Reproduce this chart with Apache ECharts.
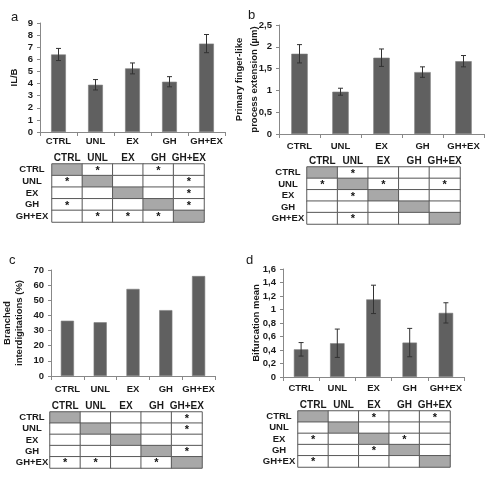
<!DOCTYPE html>
<html><head><meta charset="utf-8">
<script src="https://cdn.jsdelivr.net/npm/echarts@6/dist/echarts.min.js"></script>
<style>html,body{margin:0;padding:0;background:#fff}#c{width:500px;height:481px}</style>
</head><body><div id="c"></div>
<script>
// ---- data ----
const categories = ['CTRL', 'UNL', 'EX', 'GH', 'GH+EX'];
const ilbMean = [6.4, 3.9, 5.25, 4.15, 7.3];
const ilbErr = [0.5, 0.43, 0.45, 0.42, 0.75];
const extMean = [1.84, 0.97, 1.75, 1.42, 1.67];
const extErr = [0.21, 0.08, 0.2, 0.12, 0.13];
const branched = [36.5, 35.5, 57.5, 43.5, 66];
const bifMean = [0.41, 0.5, 1.15, 0.51, 0.95];
const bifErr = [0.1, 0.21, 0.21, 0.21, 0.15];
// significance tables: [row, col] pairs marked with '*'
const sigA = [[0,1],[0,3],[1,0],[1,4],[2,4],[3,0],[3,4],[4,1],[4,2],[4,3]];
const sigB = [[0,1],[1,0],[1,2],[1,4],[2,1],[4,1]];
const sigC = [[0,4],[1,4],[3,4],[4,0],[4,1],[4,3]];
const sigD = [[0,2],[0,4],[2,0],[2,3],[3,2],[4,0]];
const panelLetters = ['a', 'b', 'c', 'd'];
const yNames = ['IL/B', 'Primary finger-like\nprocess extension (µm)', 'Branched\ninterdigitations (%)', 'Bifurcation mean'];

const FONT = 'Liberation Sans';
const TXT = '#1a1a1a';
const BAR = '#606060';
const fmtComma = v => String(v).replace('.', ',');

const panels = [
  {grid:{left:40, top:23, width:185, height:109}, max:9, interval:1, mean:ilbMean, err:ilbErr, gap:19, lh:13, lm:4,
   table:{left:52, top:164, width:152, height:58}, sig:sigA, rm:20},
  {grid:{left:279, top:25, width:205, height:109}, max:2.5, interval:0.5, mean:extMean, err:extErr, gap:17, lh:15, lm:7,
   table:{left:307, top:167, width:153, height:57}, sig:sigB, rm:19},
  {grid:{left:42, top:270, width:173, height:106}, max:70, interval:10, mean:branched, err:null, gap:26, lh:12, lm:8,
   table:{left:50, top:412, width:152, height:56}, sig:sigC, rm:18},
  {grid:{left:283, top:269, width:181, height:108}, max:1.6, interval:0.2, mean:bifMean, err:bifErr, gap:20, lh:13, lm:6,
   table:{left:298, top:411, width:152, height:56}, sig:sigD, rm:19}
];

const grid = [], xAxis = [], yAxis = [], series = [], heatIdx = [];
panels.forEach((p, k) => {
  const gi = grid.length;
  grid.push(Object.assign({containLabel:false}, p.grid));
  xAxis.push({type:'category', gridIndex:gi, data:categories,
    axisLine:{lineStyle:{color:'#888', width:1}},
    axisTick:{show:true, length:4, lineStyle:{color:'#888'}},
    axisLabel:{margin:p.lm, fontFamily:FONT, fontWeight:'bold', fontSize:9.5, color:TXT, interval:0}});
  yAxis.push({type:'value', gridIndex:gi, min:0, max:p.max, interval:p.interval,
    name:yNames[k], nameLocation:'middle', nameGap:p.gap, nameRotate:90, nameMoveOverlap:false,
    nameTextStyle:{fontFamily:FONT, fontWeight:'bold', fontSize:9.5, color:TXT, lineHeight:p.lh, align:'center'},
    axisLine:{show:true, lineStyle:{color:'#888'}},
    axisTick:{show:true, length:3, lineStyle:{color:'#888'}},
    splitLine:{show:false},
    axisLabel:{margin:7, fontFamily:FONT, fontWeight:'bold', fontSize:9.5, color:TXT, formatter:fmtComma}});
  series.push({type:'bar', xAxisIndex:gi, yAxisIndex:gi, data:p.mean, barWidth:'40%',
    itemStyle:{color:BAR, borderColor:'#7c7c7c', borderWidth:0.6}, silent:true});
  if (p.err) {
    series.push({type:'custom', xAxisIndex:gi, yAxisIndex:gi, z:5, silent:true,
      data:p.mean.map((m, i) => [i, m - p.err[i], m + p.err[i]]),
      renderItem:(params, api) => {
        const lo = api.coord([api.value(0), api.value(1)]);
        const hi = api.coord([api.value(0), api.value(2)]);
        const w = 2.5, st = {stroke:'#333', lineWidth:1};
        return {type:'group', children:[
          {type:'line', shape:{x1:hi[0], y1:hi[1], x2:lo[0], y2:lo[1]}, style:st},
          {type:'line', shape:{x1:hi[0]-w, y1:hi[1], x2:hi[0]+w, y2:hi[1]}, style:st},
          {type:'line', shape:{x1:lo[0]-w, y1:lo[1], x2:lo[0]+w, y2:lo[1]}, style:st}
        ]};
      }});
  }
  // table
  const ti = grid.length;
  grid.push(Object.assign({containLabel:false}, p.table));
  xAxis.push({type:'category', gridIndex:ti, data:categories, position:'top',
    axisLine:{show:false}, axisTick:{show:false}, splitLine:{show:false},
    axisLabel:{margin:1, fontFamily:FONT, fontWeight:'bold', fontSize:10, color:TXT, interval:0}});
  yAxis.push({type:'category', gridIndex:ti, data:categories, inverse:true,
    axisLine:{show:false}, axisTick:{show:false}, splitLine:{show:false},
    axisLabel:{margin:p.rm, align:'center', fontFamily:FONT, fontWeight:'bold', fontSize:9.5, color:TXT, interval:0}});
  const cells = [];
  categories.forEach((r, i) => categories.forEach((c, j) => {
    let v = 0;
    if (i === j) v = 2;
    else if (p.sig.some(s => s[0] === i && s[1] === j)) v = 1;
    cells.push([j, i, v]);
  }));
  heatIdx.push(series.length);
  series.push({type:'heatmap', xAxisIndex:ti, yAxisIndex:ti, data:cells, silent:true,
    itemStyle:{borderColor:'#5a5a5a', borderWidth:1},
    label:{show:true, formatter:q => q.value[2] === 1 ? '*' : '', fontFamily:FONT, fontWeight:'bold',
      fontSize:11, color:'#111', offset:[0,1]}});
});

const titles = [
  {text:'a', left:6, top:6}, {text:'b', left:243, top:4},
  {text:'c', left:4, top:249}, {text:'d', left:241, top:249}
].map((t, i) => Object.assign(t, {text:panelLetters[i], textStyle:{fontFamily:FONT, fontWeight:'normal', fontSize:13, color:TXT}}));

const chart = echarts.init(document.getElementById('c'), null, {renderer:'canvas'});
chart.setOption({
  animation:false, backgroundColor:'#fff',
  title:titles, grid, xAxis, yAxis, series,
  visualMap:{type:'piecewise', show:false, seriesIndex:heatIdx, dimension:2,
    pieces:[{value:0, color:'#ffffff'}, {value:1, color:'#ffffff'}, {value:2, color:'#a8a8a8'}]}
});
</script></body></html>
